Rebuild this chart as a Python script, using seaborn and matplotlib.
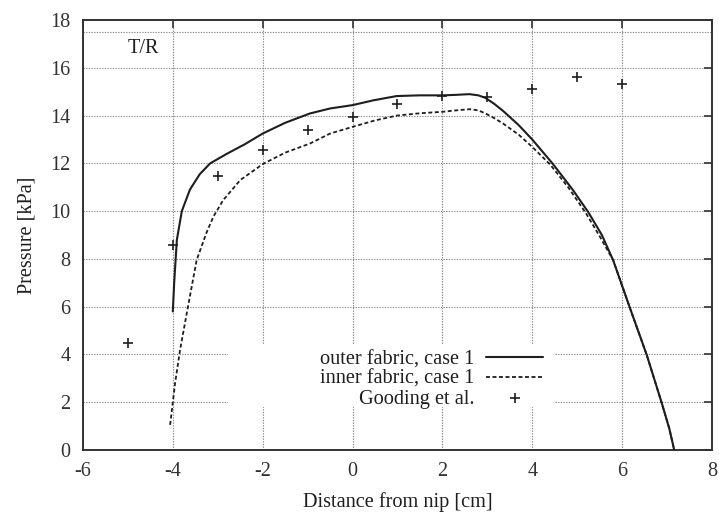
import matplotlib
matplotlib.use("Agg")
import matplotlib.pyplot as plt
from matplotlib.patches import Rectangle
import seaborn as sns
import pandas as pd

# ---- data ----
outer_x = [-4.0, -3.97, -3.91, -3.80, -3.62, -3.40, -3.17, -2.80, -2.40, -2.0, -1.5, -0.95,
           -0.5, 0.0, 0.46, 0.98, 1.5, 2.0, 2.3, 2.6, 2.8, 2.95, 3.15, 3.35, 3.7, 4.0,
           4.45, 4.9, 5.25, 5.55, 5.80, 6.17, 6.55, 6.88, 7.05, 7.16]
outer_y = [5.8, 7.0, 8.8, 10.0, 10.9, 11.55, 12.0, 12.4, 12.8, 13.25, 13.7, 14.09,
           14.3, 14.44, 14.64, 14.82, 14.85, 14.85, 14.87, 14.9, 14.85, 14.75, 14.5, 14.2, 13.6, 13.0,
           12.0, 10.9, 9.95, 9.0, 7.95, 5.97, 3.97, 1.98, 0.9, 0.0]

inner_x = [-4.06, -3.95, -3.84, -3.69, -3.47, -3.25, -3.10, -2.88, -2.5, -2.0, -1.5, -0.95,
           -0.5, 0.0, 0.5, 0.98, 1.5, 2.0, 2.3, 2.61, 2.8, 2.95, 3.15, 3.35, 3.7, 4.0,
           4.4, 4.8, 5.2, 5.5, 5.8, 6.17, 6.55, 6.88, 7.05, 7.16]
inner_y = [1.05, 2.79, 4.18, 5.72, 7.95, 9.1, 9.76, 10.46, 11.3, 11.97, 12.45, 12.83,
           13.25, 13.53, 13.8, 14.0, 14.1, 14.16, 14.22, 14.27, 14.22, 14.1, 13.9, 13.67, 13.2, 12.69,
           11.95, 11.0, 9.9, 8.95, 7.95, 5.97, 3.97, 1.98, 0.9, 0.0]

gooding_x = [-5, -4, -3, -2, -1, 0, 1, 2, 3, 4, 5, 6]
gooding_y = [4.49, 8.58, 11.46, 12.58, 13.39, 13.93, 14.5, 14.82, 14.78, 15.13, 15.62, 15.34]

x_ticks = [-6, -4, -2, 0, 2, 4, 6, 8]
y_ticks = [0, 2, 4, 6, 8, 10, 12, 14, 16, 18]

labels = ["outer fabric, case 1", "inner fabric, case 1", "Gooding et al."]

# ---- style ----
sns.set_theme(style="white")
plt.rcParams["font.family"] = ["Liberation Serif", "DejaVu Serif"]
plt.rcParams["font.size"] = 14.6
plt.rcParams["axes.edgecolor"] = "#333333"
plt.rcParams["text.color"] = "#1e1e1e"
plt.rcParams["axes.labelcolor"] = "#1e1e1e"
plt.rcParams["xtick.color"] = "#333333"
plt.rcParams["ytick.color"] = "#333333"

FS = 14.6

fig = plt.figure(figsize=(7.19, 5.16), dpi=100)
ax = fig.add_axes([0.1154, 0.128, 0.8748, 0.833])

line_col = "#1e1e1e"
df_o = pd.DataFrame({"x": outer_x, "y": outer_y})
df_i = pd.DataFrame({"x": inner_x, "y": inner_y})
df_g = pd.DataFrame({"x": gooding_x, "y": gooding_y})

sns.lineplot(data=df_o, x="x", y="y", sort=False, ax=ax, color=line_col, lw=1.5,
             label=labels[0], zorder=3)
sns.lineplot(data=df_i, x="x", y="y", sort=False, ax=ax, color=line_col, lw=1.3,
             dashes=False, label=labels[1], zorder=3)
ax.lines[1].set_dashes([2.2, 1.4])
sns.scatterplot(data=df_g, x="x", y="y", ax=ax, marker="+", s=45, color=line_col,
                linewidth=1.2, label=labels[2], zorder=4)

ax.set_xlim(-6, 8)
ax.set_ylim(0, 18)
ax.set_xticks(x_ticks)
ax.set_yticks(y_ticks)
ax.set_xticklabels([str(t) for t in x_ticks])
ax.set_yticklabels([str(t) for t in y_ticks])

ax.set_axisbelow(True)
ax.grid(True, color="#8a8a8a", linestyle=(0, (1.2, 1.2)), linewidth=0.8)
ax.axhline(17.5, color="#8a8a8a", linestyle=(0, (1.2, 1.2)), linewidth=0.8, zorder=0.5)

for s in ax.spines.values():
    s.set_linewidth(1.4)
    s.set_color("#333333")

ax.tick_params(axis="both", direction="in", length=6, width=1.2, top=True, right=True,
               labelsize=FS)
ax.tick_params(axis="x", pad=9)
ax.tick_params(axis="y", pad=9)

ax.set_xlabel("Distance from nip [cm]", fontsize=FS, labelpad=8)
ax.set_ylabel("Pressure [kPa]", fontsize=FS, labelpad=10)

ax.text(-5.0, 16.83, "T/R", fontsize=FS, ha="left", va="center")

# white key area (covers grid like the reference)
ax.add_patch(Rectangle((0.2305, 0.100), 0.52, 0.146, transform=ax.transAxes,
                       facecolor="white", edgecolor="none", zorder=1))

handles, labs = ax.get_legend_handles_labels()
leg = ax.legend(handles, labs, loc="upper right", bbox_to_anchor=(0.7313, 0.2325),
                frameon=False, markerfirst=False, borderpad=0, borderaxespad=0,
                handlelength=2.8, handletextpad=0.6, labelspacing=0.03, fontsize=FS,
                scatterpoints=1)

fig.savefig("out.png", dpi=100)
